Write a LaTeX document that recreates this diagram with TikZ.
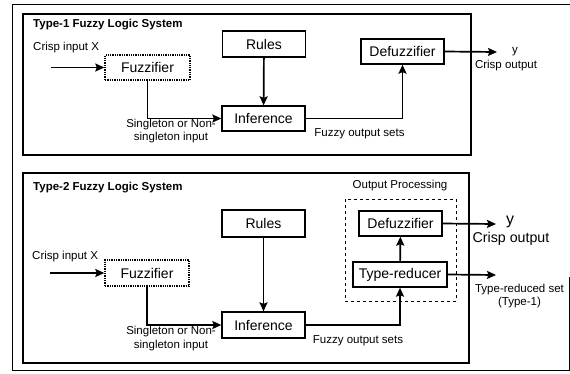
\documentclass[tikz,border=0pt]{standalone}
\usepackage{fontspec}
\setmainfont{Liberation Sans}
\usetikzlibrary{arrows.meta}
\begin{document}
\begin{tikzpicture}[x=1pt,y=-1pt,
    block/.style={draw,line width=1.3pt,minimum width=83pt,minimum height=25pt,inner sep=0pt,font=\fontsize{14}{16}\selectfont},
    fuzzbox/.style={block,densely dotted,line width=1.4pt},
    panel/.style={draw,line width=1.6pt},
    lbl/.style={inner sep=0pt,font=\fontsize{11.5}{13.5}\selectfont},
    biglbl/.style={inner sep=0pt,font=\fontsize{14.2}{16}\selectfont},
    ttl/.style={inner sep=0pt,anchor=west,font=\bfseries\fontsize{11.5}{13.5}\selectfont},
    flow/.style={line width=1.7pt,-{Stealth[length=9pt,width=8pt,inset=1.5pt]}}]
  \useasboundingbox (0,0) rectangle (570,373);
  % outer frame
  \draw[line width=1pt] (569,277) -- (569,370) -- (12,370) -- (12,4) -- (570,4);
  % type-1 system
  \draw[panel] (23,14) rectangle (471,155);
  \draw
    (33,25) node[ttl] (t1){Type-1 Fuzzy Logic System}
    (33,48) node[lbl,anchor=west] (x1){Crisp input X}
    (147.5,67.5) node[fuzzbox,minimum width=85pt] (fuzz1){Fuzzifier}
    (264,44) node[block,minimum height=26pt] (rules1){Rules}
    (263.5,118.5) node[block] (inf1){Inference}
    (402.5,51.5) node[block] (defuzz1){Defuzzifier}
    (171,131) node[lbl,align=center] (sing1){Singleton or Non-\\singleton input}
    (359.5,134) node[lbl] (fos1){Fuzzy output sets}
    (515,52) node[lbl] (y1){y}
    (506,66) node[lbl] (co1){Crisp output};
  \coordinate (in1) at (51,67.5);
  \coordinate (out1) at (497,52);
  \begin{scope}
    \draw[flow] (in1) to (fuzz1);
    \draw[flow] (fuzz1.south) |- (inf1.west);
    \draw[flow] (rules1) to (inf1);
    \draw[flow] (inf1.east) -| (defuzz1.south);
    \draw[flow] (defuzz1.east) to (out1);
  \end{scope}
  % type-2 system
  \draw[panel] (23,173) rectangle (469,363);
  \draw[dashed,line width=1pt] (345,199) rectangle (456,301);
  \draw
    (33,188) node[ttl] (t2){Type-2 Fuzzy Logic System}
    (400,186) node[lbl] (op){Output Processing}
    (32,257) node[lbl,anchor=west] (x2){Crisp input X}
    (147,273) node[fuzzbox,minimum width=84pt,minimum height=26pt] (fuzz2){Fuzzifier}
    (263.5,223.5) node[block,minimum height=27pt] (rules2){Rules}
    (263.5,325) node[block,minimum height=26pt] (inf2){Inference}
    (400.5,223.5) node[block] (defuzz2){Defuzzifier}
    (400,274.5) node[block,minimum width=94pt] (tr2){Type-reducer}
    (171,338.5) node[lbl,align=center] (sing2){Singleton or Non-\\singleton input}
    (358,341) node[lbl] (fos2){Fuzzy output sets}
    (510,222) node[biglbl,font=\fontsize{16}{18}\selectfont] (y2){y}
    (511,239) node[biglbl] (co2){Crisp output}
    (519.5,296) node[lbl,align=center] (trs){Type-reduced set\\(Type-1)};
  \coordinate (in2) at (50,273);
  \coordinate (out2) at (496,224);
  \coordinate (out3) at (496,275);
  \begin{scope}
    \draw[flow] (in2) to (fuzz2);
    \draw[flow] (fuzz2.south) |- (inf2.west);
    \draw[flow] (rules2) to (inf2);
    \draw[flow] (inf2.east) -| (tr2.south);
    \draw[flow] (tr2) to (defuzz2);
    \draw[flow] (defuzz2.east) to (out2);
    \draw[flow] (tr2.east) to (out3);
  \end{scope}
\end{tikzpicture}
\end{document}
